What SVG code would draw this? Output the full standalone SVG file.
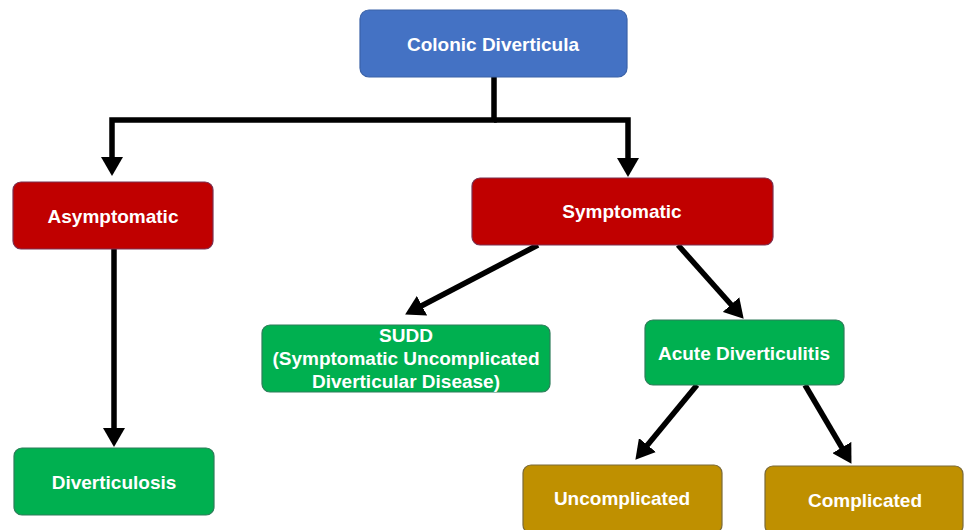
<svg xmlns="http://www.w3.org/2000/svg" width="964" height="530" viewBox="0 0 964 530">
<defs>
<style>
.box{stroke-width:1.2}
.blue{fill:#4472C4;stroke:#3A62A8}
.red{fill:#C00000;stroke:#7A3050}
.green{fill:#00B050;stroke:#2E7D5A}
.gold{fill:#BF9000;stroke:#7A6A3A}
.lbl{font-family:"Liberation Sans",Arial,sans-serif;font-weight:bold;font-size:19px;fill:#FFFFFF;text-anchor:middle}
.con{fill:none;stroke:#000000;stroke-width:5.5;stroke-linejoin:miter}
</style>
<marker id="ah" markerUnits="userSpaceOnUse" markerWidth="20" markerHeight="22" refX="10" refY="11" orient="auto">
<path d="M0,0 L19,11 L0,22 Z" fill="#000000"/>
</marker>
</defs>
<rect width="964" height="530" fill="#FFFFFF"/>
<g id="connectors">
<path class="con" d="M494,77 V120 H112 V167" marker-end="url(#ah)"/>
<path class="con" d="M494,120 H628 V168" marker-end="url(#ah)"/>
<path class="con" d="M114,249 V438" marker-end="url(#ah)"/>
<path class="con" d="M538,245 L413.1,310.3" marker-end="url(#ah)"/>
<path class="con" d="M678,245 L737.7,312" marker-end="url(#ah)"/>
<path class="con" d="M697,385 L641.1,452.8" marker-end="url(#ah)"/>
<path class="con" d="M805,385 L846.9,456.1" marker-end="url(#ah)"/>
</g>
<g id="colonic-diverticula">
<rect class="box blue" x="360" y="10" width="267" height="67" rx="9"/>
<text class="lbl" x="493" y="51">Colonic Diverticula</text>
</g>
<g id="asymptomatic">
<rect class="box red" x="13" y="182" width="200" height="67" rx="8"/>
<text class="lbl" x="113" y="223">Asymptomatic</text>
</g>
<g id="symptomatic">
<rect class="box red" x="472" y="178" width="301" height="67" rx="8"/>
<text class="lbl" x="622" y="218">Symptomatic</text>
</g>
<g id="diverticulosis">
<rect class="box green" x="14" y="448" width="200" height="67" rx="8"/>
<text class="lbl" x="114" y="489">Diverticulosis</text>
</g>
<g id="sudd">
<rect class="box green" x="262" y="325" width="288" height="67" rx="8"/>
<text class="lbl" x="406" y="342">SUDD</text>
<text class="lbl" x="406" y="365">(Symptomatic Uncomplicated</text>
<text class="lbl" x="406" y="388">Diverticular Disease)</text>
</g>
<g id="acute-diverticulitis">
<rect class="box green" x="645" y="320" width="199" height="65" rx="8"/>
<text class="lbl" x="744" y="360">Acute Diverticulitis</text>
</g>
<g id="uncomplicated">
<rect class="box gold" x="523" y="465" width="199" height="68" rx="8"/>
<text class="lbl" x="622" y="505">Uncomplicated</text>
</g>
<g id="complicated">
<rect class="box gold" x="765" y="466" width="198" height="68" rx="8"/>
<text class="lbl" x="865" y="507">Complicated</text>
</g>
</svg>
